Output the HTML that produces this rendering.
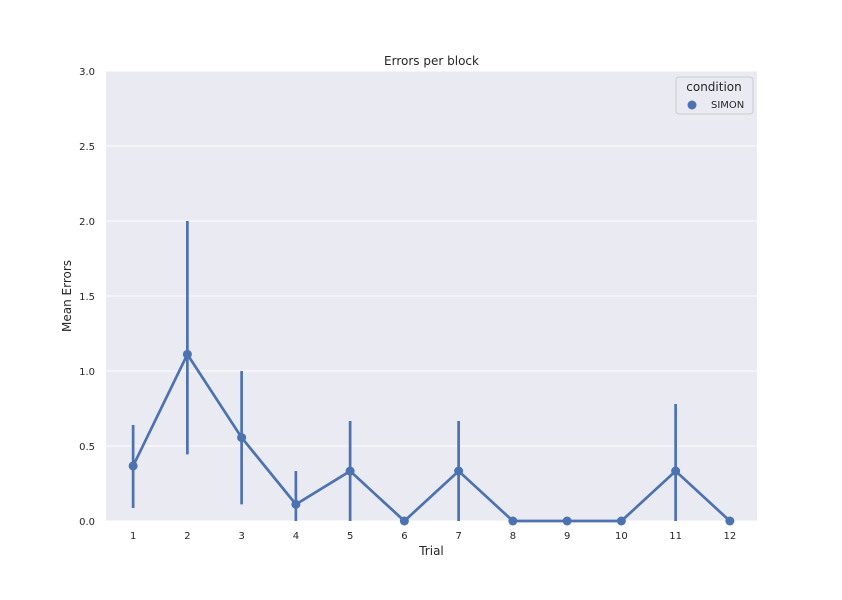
<!DOCTYPE html>
<html><head><meta charset="utf-8"><style>
body{margin:0;background:#fff;}
svg text{font-family:"DejaVu Sans","Liberation Sans",sans-serif;fill:#262626;}
</style></head><body>
<svg id="chart" width="842" height="595">
<rect x="106" y="71" width="651" height="450" fill="#eaeaf2"/>
<g id="grid"></g><g id="ticks"></g><g id="marks"></g>
<text x="431.5" y="65" font-size="12" text-anchor="middle">Errors per block</text>
<text x="431.5" y="555" font-size="12" text-anchor="middle">Trial</text>
<text transform="translate(71,296) rotate(-90)" font-size="12" text-anchor="middle">Mean Errors</text>
<g>
<rect x="676" y="77" width="77" height="37" rx="3" fill="#eaeaf2" stroke="#cccccc"/>
<text x="714" y="91" font-size="12" text-anchor="middle">condition</text>
<circle cx="692" cy="105" r="4.5" fill="#4c72b0"/>
<text x="711" y="108" font-size="10">SIMON</text>
</g>
</svg>
<script>
const categories=["1","2","3","4","5","6","7","8","9","10","11","12"];
const means=[0.367,1.111,0.556,0.111,0.333,0,0.333,0,0,0,0.333,0];
const errLow=[0.087,0.444,0.111,0,0,0,0,0,0,0,0,0];
const errHigh=[0.64,2.0,1.0,0.333,0.667,0,0.667,0,0,0,0.78,0];
const yTicks=[0,0.5,1,1.5,2,2.5,3];
const yTickLabels=["0.0","0.5","1.0","1.5","2.0","2.5","3.0"];
const NS="http://www.w3.org/2000/svg";
const x0=106,x1=757,y0=521,y1=71;
const xs=i=>x0+(i+0.5)*(x1-x0)/categories.length;
const ys=v=>y0-(v/3)*(y0-y1);
function mk(t,a,p){const e=document.createElementNS(NS,t);for(const k in a)e.setAttribute(k,a[k]);p.appendChild(e);return e;}
const grid=document.getElementById('grid'),ticks=document.getElementById('ticks'),marks=document.getElementById('marks');
yTicks.forEach((v,i)=>{
 const l=mk('line',{x1:x0,x2:x1,y1:ys(v),y2:ys(v),stroke:'#fff','stroke-width':1},grid);
 
 
 const t=mk('text',{x:95,y:ys(v)+4,'font-size':10,'text-anchor':'end'},ticks);t.textContent=yTickLabels[i];
 
 
});
categories.forEach((c,i)=>{
 const t=mk('text',{x:xs(i),y:539,'font-size':10,'text-anchor':'middle'},ticks);t.textContent=c;
 
 
});
categories.forEach((c,i)=>{
 const e=mk('line',{x1:xs(i),x2:xs(i),y1:ys(errLow[i]),y2:ys(errHigh[i]),stroke:'#4c72b0','stroke-width':2.7},marks);
 
 
});
const pl=mk('polyline',{points:means.map((v,i)=>xs(i)+','+ys(v)).join(' '),fill:'none',stroke:'#4c72b0','stroke-width':2.7},marks);


means.forEach((v,i)=>{
 const p=mk('circle',{cx:xs(i),cy:ys(v),r:4.5,fill:'#4c72b0'},marks);
 
 
});
</script>
</body></html>
